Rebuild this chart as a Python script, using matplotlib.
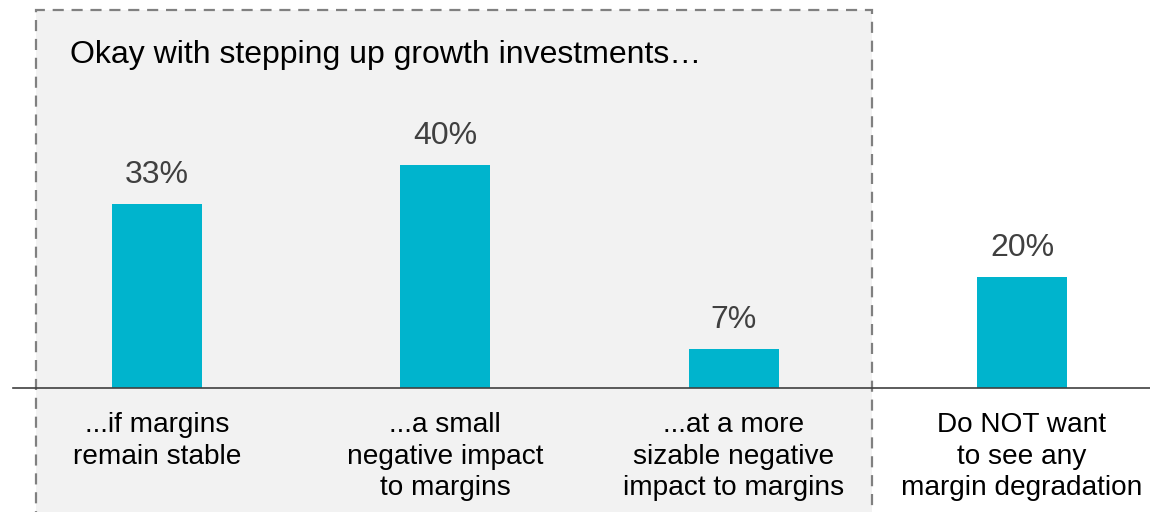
import matplotlib.pyplot as plt
from matplotlib.patches import Rectangle

plt.rcParams['font.family'] = ['Liberation Sans', 'DejaVu Sans']

categories = ['...if margins\nremain stable',
              '...a small\nnegative impact\nto margins',
              '...at a more\nsizable negative\nimpact to margins',
              'Do NOT want\nto see any\nmargin degradation']
values = [33, 40, 7, 20]
value_labels = ['33%', '40%', '7%', '20%']
title = 'Okay with stepping up growth investments\u2026'

bar_color = '#00B4CD'

fig = plt.figure(figsize=(11.5, 5.12), dpi=100)
ax = fig.add_axes([0, 0, 1, 1])
ax.set_xlim(-0.5446, 3.444)
ax.set_ylim(-22.26, 69.66)
ax.axis('off')

# shaded, dashed group box around the first three answers
box = Rectangle((36 / 1150, -0.05), (872 - 36) / 1150, 0.05 + (512 - 10) / 512,
                transform=ax.transAxes, facecolor='#f2f2f2', edgecolor='#808080',
                linewidth=1.6, linestyle=(0, (5, 3.5)), zorder=0, clip_on=False)
ax.add_patch(box)

x = list(range(len(values)))
ax.bar(x, values, width=0.312, color=bar_color, zorder=2)
ax.axhline(0, xmin=13 / 1150, xmax=1, color='#404040', linewidth=1.2, zorder=3)

for xi, v, lab in zip(x, values, value_labels):
    ax.annotate(lab, (xi, v), xytext=(0, 10), textcoords='offset points',
                ha='center', va='bottom', fontsize=23, color='#404040')

for xi, cat in zip(x, categories):
    ax.text(xi, -4.3, cat, ha='center', va='top', fontsize=20.2,
            color='black', linespacing=1.28)

ax.text(70 / 1150, 1 - 55 / 512, title, transform=ax.transAxes,
        ha='left', va='center', fontsize=23, color='black')

fig.savefig('out.png', dpi=100)
